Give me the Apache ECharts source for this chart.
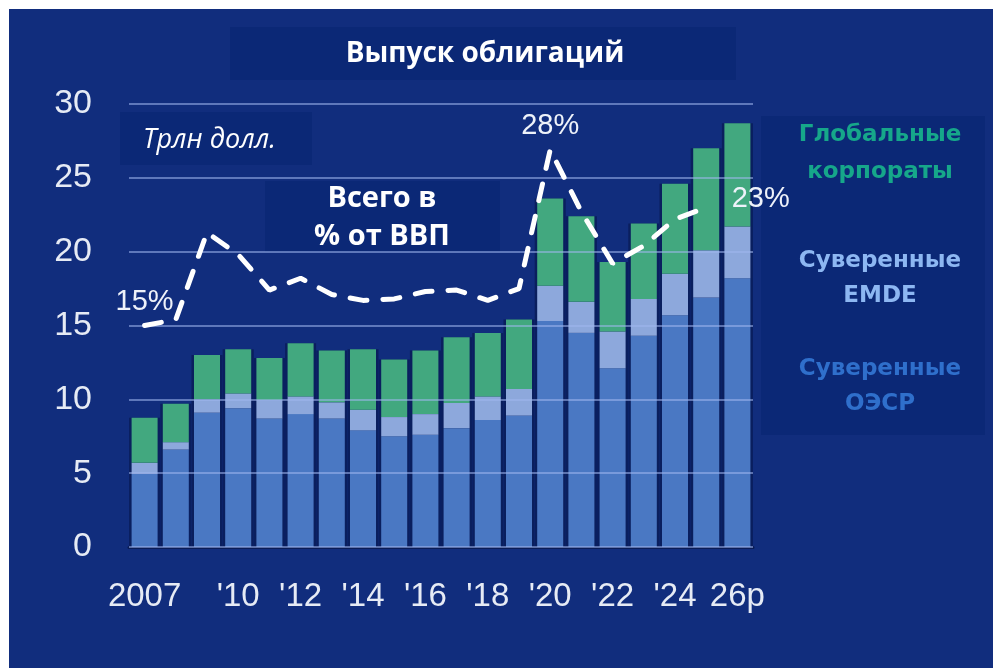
<!DOCTYPE html>
<html>
<head>
<meta charset="utf-8">
<script src="https://cdn.jsdelivr.net/npm/echarts@6/dist/echarts.min.js"></script>
<style>
    html, body {margin: 0; padding: 0; background: #fff;}
    #main {width: 993px; height: 668px;}
</style>
</head>
<body>
<div id="main"></div>
<script>
// годы и подписи оси
var years = ['2007', '2008', '2009', '2010', '2011', '2012', '2013', '2014', '2015', '2016',
    '2017', '2018', '2019', '2020', '2021', '2022', '2023', '2024', '2025', '2026'];
var yearLabels = {'2007': '2007', '2010': "'10", '2012': "'12", '2014': "'14", '2016': "'16",
    '2018': "'18", '2020': "'20", '2022': "'22", '2024': "'24", '2026': '26p'};

// трлн долл.
var sovOecd = [4.95, 6.6, 9.1, 9.4, 8.7, 9.0, 8.7, 7.9, 7.5, 7.6, 8.05, 8.6, 8.9, 15.3, 14.5, 12.1, 14.3, 15.7, 16.9, 18.2];
var sovEmde = [0.75, 0.5, 0.9, 1.0, 1.25, 1.2, 1.1, 1.4, 1.3, 1.4, 1.7, 1.6, 1.8, 2.4, 2.1, 2.5, 2.5, 2.8, 3.2, 3.5];
var corp = [3.05, 2.6, 3.0, 3.0, 2.85, 3.6, 3.5, 4.1, 3.9, 4.3, 4.45, 4.3, 4.7, 5.9, 5.8, 4.7, 5.1, 6.1, 6.9, 7.0];

// всего в % от ВВП
var gdpShare = [15.0, 15.4, 21.3, 19.8, 17.4, 18.2, 17.1, 16.7, 16.8, 17.3, 17.4, 16.7, 17.5, 26.9, 22.7, 19.2, 20.4, 22.2, 23.0, null];
var gdpLabels = {0: '15%', 13: '28%', 18: '23%'};

var myChart = echarts.init(document.getElementById('main'));

var bg = '#112d7d';
var boxColor = '#0b2876';
var numFont = '"Liberation Sans Narrow", "Liberation Sans"';

// тёмная подложка под столбцами (сумма трёх рядов)
var totals = sovOecd.map(function (v, i) {
    return +(v + sovEmde[i] + corp[i]).toFixed(2);
});

var lineData = gdpShare.map(function (v, i) {
    var item = {value: v};
    if (gdpLabels[i]) {
        item.label = {show: true, formatter: gdpLabels[i], position: 'top', distance: 9};
        if (i === 18) {
            item.label.position = [26, -22];
        }
    }
    return item;
});

// текстовый блок по центру точки
function caption(x, y, text, color, font, lh) {
    return {
        type: 'text', x: x, y: y, z: 20,
        style: {text: text, fill: color, font: font, align: 'center', verticalAlign: 'middle', lineHeight: lh}
    };
}

var option = {
    backgroundColor: '#fff',
    animation: false,
    graphic: [
        {type: 'rect', z: -10, shape: {x: 9, y: 9, width: 984, height: 659}, style: {fill: bg}},
        {type: 'rect', z: -9, shape: {x: 230, y: 27, width: 506, height: 53}, style: {fill: boxColor}},
        {type: 'rect', z: -9, shape: {x: 120, y: 112, width: 192, height: 53}, style: {fill: boxColor}},
        {type: 'rect', z: -9, shape: {x: 265, y: 181, width: 235, height: 71}, style: {fill: boxColor}},
        {type: 'rect', z: -9, shape: {x: 761, y: 116, width: 224, height: 319}, style: {fill: boxColor}},
        caption(485, 54, 'Выпуск облигаций', '#fff', 'bold 28px "Open Sans"', 34),
        {
            type: 'text', x: 143, y: 140, z: 20,
            style: {text: 'Трлн долл.', fill: '#fff', font: 'italic 27px "Open Sans"', verticalAlign: 'middle'}
        },
        caption(382, 218, 'Всего в\n% от ВВП', '#fff', 'bold 29px "Open Sans"', 38),
        caption(880, 154, 'Глобальные\nкорпораты', '#16a78a', 'bold 23px "DejaVu Sans"', 37),
        caption(880, 279, 'Суверенные\nEMDE', '#8db7f2', 'bold 23px "DejaVu Sans"', 35),
        caption(880, 387, 'Суверенные\nОЭСР', '#2f6fcb', 'bold 23px "DejaVu Sans"', 35)
    ],
    grid: {left: 129, right: 240, top: 104, bottom: 121},
    xAxis: [
        {
            type: 'category',
            data: years,
            axisLine: {show: true, lineStyle: {color: '#0a1c55', width: 3}},
            axisTick: {show: false},
            axisLabel: {
                interval: 0,
                margin: 33,
                color: '#e6ebf5',
                fontSize: 33,
                fontFamily: numFont,
                formatter: function (v) {
                    return yearLabels[v] || '';
                }
            }
        },
        {type: 'category', data: years, show: false}
    ],
    yAxis: [
        {
            type: 'value',
            min: 0,
            max: 30,
            interval: 5,
            z: 3,
            axisLine: {show: false},
            axisTick: {show: false},
            splitLine: {lineStyle: {color: 'rgba(160,182,238,0.55)', width: 2}},
            axisLabel: {
                margin: 37,
                color: '#e6ebf5',
                fontSize: 34,
                fontFamily: numFont
            }
        },
        {type: 'value', min: 0, max: 30, show: false}
    ],
    series: [
        {
            type: 'bar', xAxisIndex: 1, barWidth: 31, z: 1, silent: true,
            itemStyle: {color: '#0a1f5e'}, data: totals
        },
        {
            name: 'Суверенные ОЭСР', type: 'bar', stack: 'total', barWidth: 26,
            itemStyle: {color: '#4a78c3'}, data: sovOecd
        },
        {
            name: 'Суверенные EMDE', type: 'bar', stack: 'total',
            itemStyle: {color: '#8da8dc'}, data: sovEmde
        },
        {
            name: 'Глобальные корпораты', type: 'bar', stack: 'total',
            itemStyle: {color: '#42a87f'}, data: corp
        },
        {
            name: 'Всего в % от ВВП', type: 'line', yAxisIndex: 1, z: 5,
            symbol: 'circle',
            symbolSize: 1,
            showSymbol: true,
            itemStyle: {color: 'rgba(0,0,0,0)'},
            lineStyle: {color: '#fff', width: 5, type: [17, 16], cap: 'round'},
            label: {
                show: false,
                color: '#eef2fa',
                fontSize: 29,
                fontFamily: numFont
            },
            labelLayout: {hideOverlap: false},
            data: lineData
        }
    ]
};

myChart.setOption(option);
</script>
</body>
</html>
